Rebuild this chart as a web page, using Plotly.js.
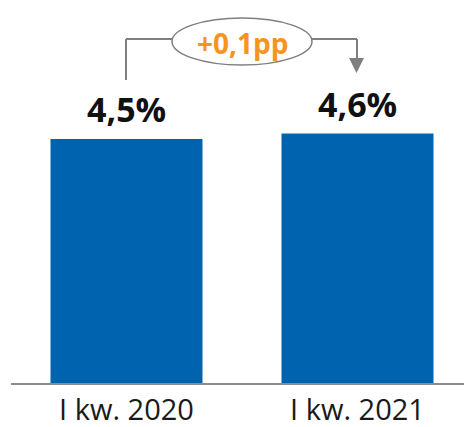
<!DOCTYPE html>
<html>
<head>
<meta charset="utf-8">
<script src="https://cdn.plot.ly/plotly-3.0.1.min.js"></script>
<style>html,body{margin:0;padding:0;background:#fff;}#chart{width:464px;height:427px;}</style>
</head>
<body>
<div id="chart"></div>
<script>
const categories = ["I kw. 2020", "I kw. 2021"];
const values = [4.5, 4.6];
const deltaLabel = "+0,1pp";

const fmt = v => v.toFixed(1).replace('.', ',') + '%';
const FONT = '"Open Sans", sans-serif';
const GRAY = '#7f7f7f';

const trace = {
  type: 'bar',
  x: categories,
  y: values,
  marker: {color: '#0063AF', line: {width: 0}},
  width: 0.658,
  hoverinfo: 'skip'
};

const valueAnnotations = categories.map((c, i) => ({
  x: c, y: values[i], xref: 'x', yref: 'y',
  text: '<b>' + fmt(values[i]) + '</b>',
  showarrow: false, yanchor: 'bottom', yshift: 5,
  font: {family: FONT, size: 34, color: '#111111'}
}));

const layout = {
  width: 464, height: 427,
  margin: {l: 11, r: 0, t: 0, b: 44},
  paper_bgcolor: '#ffffff', plot_bgcolor: '#ffffff',
  showlegend: false,
  xaxis: {
    type: 'category', range: [-0.5, 1.461],
    showgrid: false, zeroline: false,
    showline: true, linecolor: '#8c8c8c', linewidth: 2,
    ticks: '', tickfont: {family: FONT, size: 29, color: '#1a1a1a'},
    fixedrange: true
  },
  yaxis: {
    range: [0, 7.064], visible: false, fixedrange: true
  },
  shapes: [
    {type: 'line', xref: 'paper', yref: 'paper', x0: 0.2539, x1: 0.2539, y0: 0.7911, y1: 0.8982, line: {color: GRAY, width: 2}},
    {type: 'line', xref: 'paper', yref: 'paper', x0: 0.2539, x1: 0.3554, y0: 0.8982, y1: 0.8982, line: {color: GRAY, width: 2}},
    {type: 'circle', xref: 'paper', yref: 'paper', x0: 0.3554, x1: 0.6645, y0: 0.8303, y1: 0.9530, line: {color: GRAY, width: 1.5}, fillcolor: 'rgba(0,0,0,0)'},
    {type: 'line', xref: 'paper', yref: 'paper', x0: 0.6645, x1: 0.7638, y0: 0.8982, y1: 0.8982, line: {color: GRAY, width: 2}},
    {type: 'line', xref: 'paper', yref: 'paper', x0: 0.7638, x1: 0.7638, y0: 0.8982, y1: 0.8433, line: {color: GRAY, width: 2}},
    {type: 'path', xref: 'paper', yref: 'paper', path: 'M 0.7461 0.8486 L 0.7792 0.8486 L 0.7627 0.8094 Z', fillcolor: GRAY, line: {color: GRAY, width: 0}}
  ],
  annotations: valueAnnotations.concat([{
    x: 0.51, y: 0.8877, xref: 'paper', yref: 'paper',
    text: '<b>' + deltaLabel + '</b>', showarrow: false,
    xanchor: 'center', yanchor: 'middle',
    font: {family: FONT, size: 28, color: '#F7941D'}
  }])
};

Plotly.newPlot('chart', [trace], layout, {displayModeBar: false, staticPlot: true});
</script>
</body>
</html>
